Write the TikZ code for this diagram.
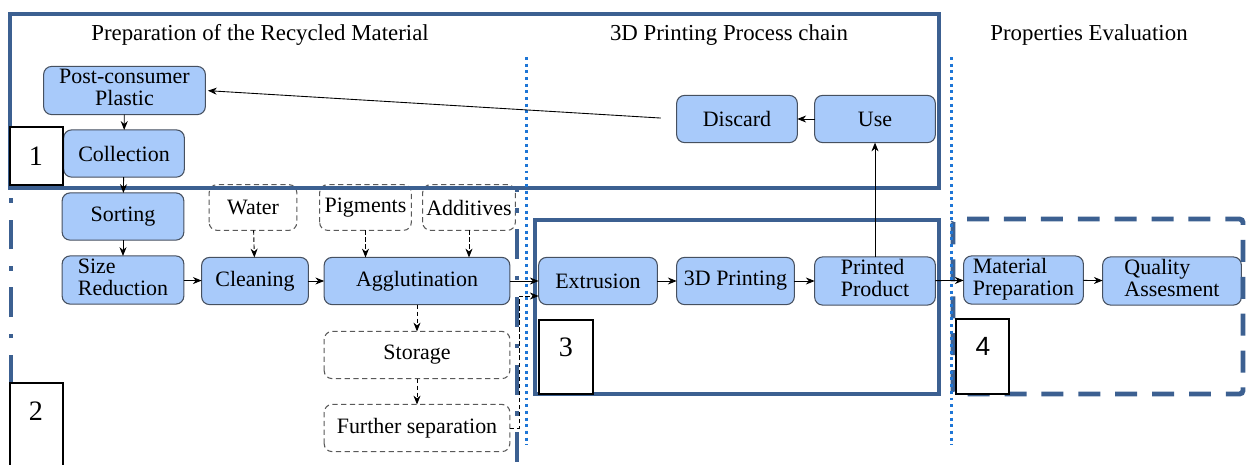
\documentclass[tikz,border=0pt]{standalone}
\usepackage{fontspec}
\setmainfont{Liberation Serif}
\usetikzlibrary{positioning, arrows.meta, calc, backgrounds}

\definecolor{frameblue}{RGB}{60,96,145}
\definecolor{sepblue}{RGB}{30,118,214}
\definecolor{procfill}{RGB}{168,202,250}
\definecolor{procline}{RGB}{70,80,95}

\tikzset{
  proctext/.style={minimum height=0.93cm, inner sep=1pt,
    font=\fontsize{12.5pt}{12.5pt}\selectfont},
  procshape/.style={draw=procline, fill=procfill, rounded corners=4.5pt, line width=0.6pt},
  inputshape/.style={draw=gray!70!black, fill=white, rounded corners=4.5pt,
    line width=0.6pt, dash pattern=on 3pt off 2pt},
  flow/.style={-{Stealth[length=5pt,width=4pt]}, line width=0.5pt},
  flowdash/.style={flow, dash pattern=on 2.5pt off 1.5pt},
  stagebox/.style={draw=frameblue, line width=2.8pt},
  stagedash/.style={stagebox, rounded corners=2pt, dash pattern=on 12.5pt off 8.5pt},
  stagedashdot/.style={stagebox, dash pattern=on 17pt off 9.5pt on 2.5pt off 9.5pt},
  divider/.style={draw=sepblue, line width=1.7pt, dash pattern=on 1.7pt off 2.1pt},
  tagbox/.style={draw=black, fill=white, line width=0.6pt},
  tagnum/.style={font=\fontsize{16pt}{16pt}\selectfont},
  heading/.style={font=\fontsize{13pt}{13pt}\selectfont}
}

\begin{document}
\begin{tikzpicture}[x=0.02cm, y=-0.02cm]
        \useasboundingbox (0,0) rectangle (1247,464);
        \clip (0,0) rectangle (1247,464);
        % stage frames and dividers
        \draw[stagedashdot] (11,520) -- (11,188) -- (517,188) -- (517,520);
        \draw[stagebox] (10,14) rectangle (939,188);
        \draw[stagebox] (535,220) rectangle (939,394);
        \draw[stagedash] (953,219) rectangle (1243,394);
        \draw[divider] (526,57) -- (526,445);
        \draw[divider] (951,57) -- (951,445);
        \node[heading] (hprep) at (260,35) {Preparation of the Recycled Material};
        \node[heading] (hchain) at (729,35) {3D Printing Process chain};
        \node[heading] (heval) at (1089,35) {Properties Evaluation};
        % preparation of the recycled material
        \node[proctext, minimum width=3.22cm] (post) at (124.5,90.5)
          {\begin{tabular}{@{}c@{}}Post-consumer\\Plastic\end{tabular}};
        \node[proctext, minimum width=2.40cm] (collect) at (124,153.5) {Collection};
        \node[proctext, minimum width=2.42cm] (sort) at (123,216.5) {Sorting};
        \node[proctext, minimum width=2.42cm] (size) at (123,280)
          {\begin{tabular}{@{}l@{}}Size\\Reduction\end{tabular}};
        \node[proctext, minimum width=2.12cm] (clean) at (255,281) {Cleaning};
        \node[proctext, minimum width=3.70cm] (agglut) at (417,281) {Agglutination};
        \node[proctext, minimum width=1.74cm, minimum height=0.9cm] (water) at (253,207.5) {Water};
        \node[proctext, minimum width=1.82cm, minimum height=0.9cm] (pigm) at (365.5,207.5) {Pigments};
        \node[proctext, minimum width=1.84cm, minimum height=0.9cm] (addit) at (469,207.5) {Additives};
        \node[proctext, minimum width=3.70cm] (store) at (417,355) {Storage};
        \node[proctext, minimum width=3.70cm] (further) at (417,428) {Further separation};
        % 3D printing process chain
        \node[proctext, minimum width=2.36cm] (extru) at (598,281) {Extrusion};
        \node[proctext, minimum width=2.34cm] (print) at (735.5,281) {3D Printing};
        \node[proctext, minimum width=2.40cm] (product) at (875,281)
          {\begin{tabular}{@{}l@{}}Printed\\Product\end{tabular}};
        \node[proctext, minimum width=2.40cm] (discard) at (737,119) {Discard};
        \node[proctext, minimum width=2.40cm] (use) at (875,119) {Use};
        % properties evaluation
        \node[proctext, minimum width=2.38cm] (matprep) at (1023.5,280)
          {\begin{tabular}{@{}l@{}}Material\\Preparation\end{tabular}};
        \node[proctext, minimum width=2.76cm] (quality) at (1172,281)
          {\begin{tabular}{@{}l@{}}Quality\\Assesment\end{tabular}};
        % box outlines behind the texts
        \begin{scope}[on background layer]
          \foreach \n in {post,collect,sort,size,clean,agglut,extru,print,product,discard,use,matprep,quality}
            \draw[procshape] (\n.south west) rectangle (\n.north east);
          \foreach \n in {water,pigm,addit,store,further}
            \draw[inputshape] (\n.south west) rectangle (\n.north east);
        \end{scope}
        \coordinate (fsbend) at (519,428);
        % connectors
        \draw[flow] (post) -- (collect);
        \draw[flow] (collect) -- (sort);
        \draw[flow] (sort) -- (size);
        \draw[flow] (size) -- (clean);
        \draw[flow] (clean) -- (agglut);
        \draw[flowdash] (water) -- (clean);
        \draw[flowdash] (pigm) -- (pigm |- agglut.north);
        \draw[flowdash] (addit) -- (addit |- agglut.north);
        \draw[flowdash] (agglut) -- (store);
        \draw[flowdash] (store) -- (further);
        \draw[flow] (agglut) -- (extru);
        \draw[flowdash] (further.east) -- (fsbend) |- ($(extru.west)+(0,15)$);
        \draw[flow] (extru) -- (print);
        \draw[flow] (print) -- (product);
        \draw[flow] (product) -- (use);
        \draw[flow] (use) -- (discard);
        \draw[flow, shorten <=9pt, shorten >=1.5pt] (discard.west) -- (post.east);
        \draw[flow] (product) -- (matprep);
        \draw[flow] (matprep) -- (quality);
        % stage numbers
        \draw[tagbox] (10,127) rectangle (63,185);
        \node[tagnum] (tag1) at (36,156) {1};
        \draw[tagbox] (10,383) rectangle (63,480);
        \node[tagnum] (tag2) at (36,411) {2};
        \draw[tagbox] (539,320) rectangle (593,394);
        \node[tagnum] (tag3) at (566,347) {3};
        \draw[tagbox] (956,319) rectangle (1009,394);
        \node[tagnum] (tag4) at (983,346) {{\fontspec{Liberation Sans}\fontsize{15pt}{15pt}\selectfont 4}};
      \end{tikzpicture}
\end{document}
